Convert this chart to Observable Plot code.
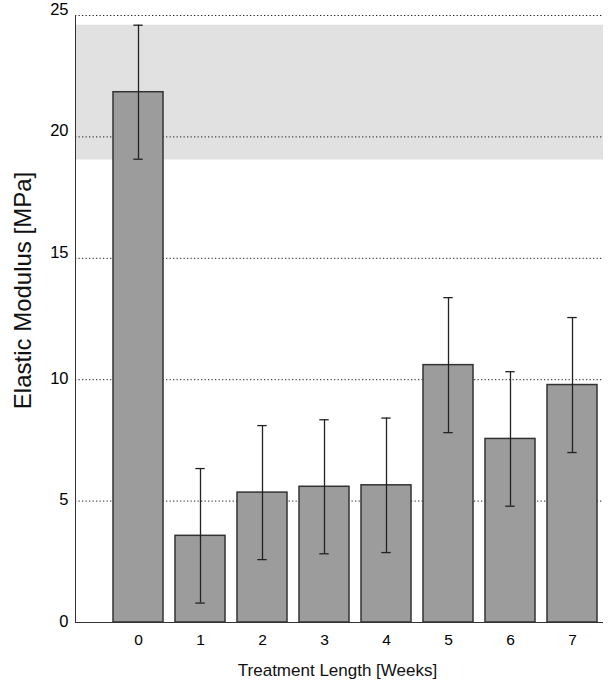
<!DOCTYPE html>
<html>
<head>
<meta charset="utf-8">
<script src="https://cdn.jsdelivr.net/npm/d3@7"></script>
<script src="https://cdn.jsdelivr.net/npm/@observablehq/plot@0.6"></script>
<style>
  html, body { margin: 0; padding: 0; background: #fff; }
  svg { display: block; }
</style>
</head>
<body>
<div id="chart"></div>
<script>
const weeks = ["0", "1", "2", "3", "4", "5", "6", "7"];
const modulus = [21.84, 3.57, 5.35, 5.59, 5.65, 10.6, 7.56, 9.78];
const errors = [2.76, 2.77, 2.76, 2.76, 2.77, 2.78, 2.77, 2.78];
const bandLow = 19.05;
const bandHigh = 24.6;
const yTicksLow = [0, 5, 10];
const yTicksHigh = [15, 20, 25];
const gridTicks = [5, 10, 15, 20, 25];
const xLabel = "Treatment Length [Weeks]";
const yLabel = "Elastic Modulus [MPa]";

const data = weeks.map((w, i) => ({week: w, value: modulus[i], err: errors[i]}));

const font = "'Liberation Sans', Arial, sans-serif";

const chart = Plot.plot({
  width: 611,
  height: 683,
  marginLeft: 75,
  marginRight: 8,
  marginTop: 15,
  marginBottom: 61,
  style: {fontFamily: font, background: "#fff", color: "#000"},
  x: {domain: weeks, range: [99.6, 609.4], padding: 0.2},
  y: {domain: [0, 25]},
  marks: [
    Plot.rect([0], {y1: () => bandLow, y2: () => bandHigh, fill: "#e1e1e1"}),
    Plot.ruleY(gridTicks, {stroke: "#222", strokeWidth: 1, strokeDasharray: "1.3,2.2"}),
    Plot.barY(data, {x: "week", y: "value", fill: "#9c9c9c", stroke: "#333", strokeWidth: 1.5}),
    Plot.ruleX(data, {x: "week", y1: d => d.value - d.err, y2: d => d.value + d.err, stroke: "#222", strokeWidth: 1.3}),
    Plot.tickY(data, {x: "week", y: d => d.value + d.err, stroke: "#222", strokeWidth: 1.3, insetLeft: 20.3, insetRight: 20.3}),
    Plot.tickY(data, {x: "week", y: d => d.value - d.err, stroke: "#222", strokeWidth: 1.3, insetLeft: 20.3, insetRight: 20.3}),
    Plot.ruleY([0], {stroke: "#333", strokeWidth: 1}),
    Plot.frame({anchor: "left", stroke: "#333", strokeWidth: 1}),
    Plot.axisY({ticks: yTicksLow, tickSize: 0, tickPadding: 7, fontSize: 16.5, label: null, dy: -1}),
    Plot.axisY({ticks: yTicksHigh, tickSize: 0, tickPadding: 7, fontSize: 16.5, label: null, dy: -6}),
    Plot.axisX({tickSize: 0, tickPadding: 11, fontSize: 15.5, label: null}),
    Plot.text([xLabel], {frameAnchor: "bottom", text: d => d, textAnchor: "middle", lineAnchor: "bottom", dy: 53, dx: -2, fontSize: 17, fill: "#111"}),
    Plot.text([yLabel], {frameAnchor: "left", text: d => d, textAnchor: "middle", lineAnchor: "bottom", rotate: -90, dx: -45, dy: -28.5, fontSize: 24, fill: "#111"})
  ]
});

document.getElementById("chart").appendChild(chart);
</script>
</body>
</html>
